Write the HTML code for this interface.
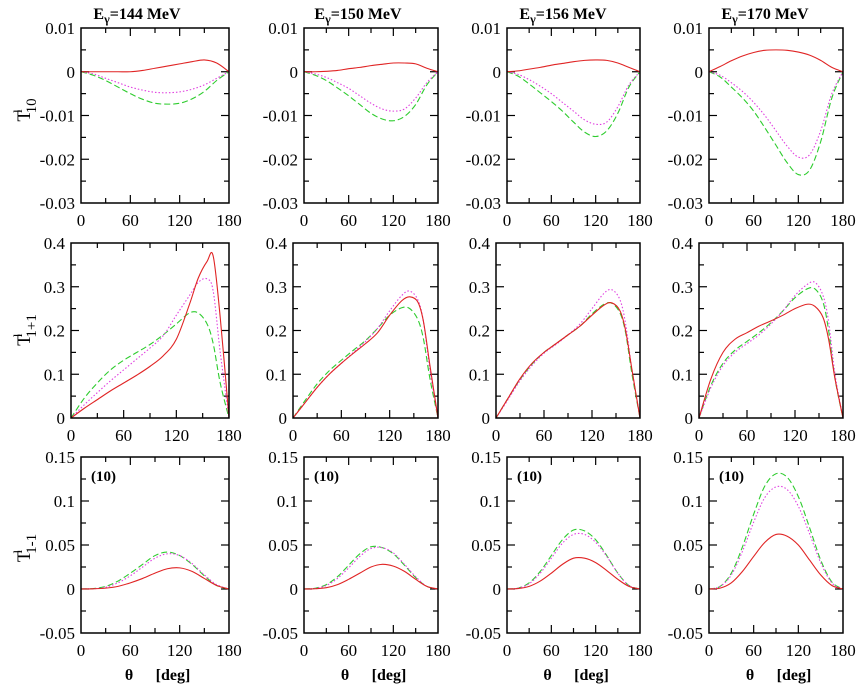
<!DOCTYPE html>
<html><head><meta charset="utf-8"><style>
html,body{margin:0;padding:0;background:#fff;}
svg{display:block;}
svg text{font-family:"Liberation Serif","DejaVu Serif",serif;}
</style></head><body>
<svg id="chart" width="866" height="688" viewBox="0 0 866 688" xmlns="http://www.w3.org/2000/svg" font-family="Liberation Serif, serif"></svg>
<script>
const energies = ["144","150","156","170"];
const xTicks = [0,60,120,180];
const row1Ticks = ["0.01","0","-0.01","-0.02","-0.03"];
const row2Ticks = ["0.4","0.3","0.2","0.1","0"];
const row3Ticks = ["0.15","0.1","0.05","0","-0.05"];
const thA = [0,15,30,45,60,75,90,105,120,135,150,165,180];
const thB = [0,15,30,45,60,75,90,105,120,135,145,155,162,170,180];
// Row 1: T10
const t10Red = [
 [0,0,0,0,0,0.0003,0.0008,0.0013,0.0018,0.0023,0.0027,0.002,0],
 [0,0,0.0001,0.0003,0.0007,0.001,0.0014,0.0017,0.002,0.002,0.0018,0.0008,0],
 [0,0.0002,0.0006,0.001,0.0015,0.0019,0.0023,0.0026,0.0027,0.0026,0.002,0.001,0],
 [0,0.0012,0.0025,0.0036,0.0044,0.0049,0.005,0.0049,0.0045,0.0038,0.0026,0.001,0]];
const t10Mag = [
 [0,-0.0005,-0.0015,-0.0025,-0.0035,-0.0042,-0.0047,-0.0048,-0.0046,-0.004,-0.003,-0.0015,0],
 [0,-0.0005,-0.0013,-0.0025,-0.0038,-0.0055,-0.0072,-0.0085,-0.009,-0.0085,-0.006,-0.0025,0],
 [0,-0.0006,-0.0018,-0.0033,-0.005,-0.007,-0.009,-0.011,-0.012,-0.0115,-0.008,-0.003,0],
 [0,-0.0008,-0.0025,-0.0045,-0.007,-0.01,-0.0135,-0.017,-0.0195,-0.019,-0.0135,-0.005,0]];
const t10Grn = [
 [0,-0.0008,-0.002,-0.0035,-0.005,-0.0063,-0.0072,-0.0074,-0.0072,-0.0062,-0.0045,-0.002,0],
 [0,-0.0008,-0.002,-0.0037,-0.0055,-0.0075,-0.0095,-0.0108,-0.0112,-0.0102,-0.0075,-0.003,0],
 [0,-0.001,-0.0028,-0.0048,-0.0068,-0.009,-0.0115,-0.0138,-0.0148,-0.0135,-0.0095,-0.0035,0],
 [0,-0.0012,-0.0035,-0.006,-0.009,-0.0128,-0.0168,-0.0208,-0.0235,-0.0225,-0.016,-0.006,0]];
// Row 2: T1+1
const tp1Red = [
 [0,0.022,0.042,0.062,0.08,0.098,0.118,0.142,0.18,0.26,0.32,0.358,0.37,0.23,0],
 [0,0.035,0.07,0.1,0.125,0.148,0.17,0.195,0.235,0.268,0.277,0.265,0.22,0.12,0],
 [0,0.045,0.09,0.125,0.15,0.17,0.19,0.21,0.235,0.258,0.263,0.245,0.2,0.11,0],
 [0,0.09,0.15,0.18,0.195,0.21,0.222,0.235,0.25,0.26,0.255,0.23,0.18,0.09,0]];
const tp1Mag = [
 [0,0.03,0.058,0.085,0.11,0.135,0.16,0.188,0.235,0.28,0.31,0.318,0.29,0.15,0],
 [0,0.035,0.07,0.1,0.125,0.15,0.175,0.205,0.245,0.28,0.29,0.27,0.22,0.11,0],
 [0,0.042,0.085,0.12,0.148,0.168,0.19,0.215,0.25,0.285,0.293,0.27,0.215,0.11,0],
 [0,0.07,0.12,0.15,0.17,0.19,0.215,0.245,0.28,0.305,0.31,0.28,0.22,0.1,0]];
const tp1Grn = [
 [0,0.045,0.08,0.11,0.132,0.15,0.168,0.19,0.215,0.24,0.24,0.215,0.17,0.08,0],
 [0,0.04,0.078,0.108,0.132,0.155,0.177,0.205,0.235,0.252,0.25,0.225,0.18,0.09,0],
 [0,0.045,0.088,0.123,0.15,0.17,0.19,0.21,0.238,0.26,0.262,0.24,0.195,0.1,0],
 [0,0.075,0.125,0.155,0.175,0.195,0.218,0.245,0.275,0.295,0.295,0.265,0.2,0.09,0]];
// Row 3: T1-1
const tm1Red = [
 [0,0.0002,0.001,0.003,0.007,0.012,0.018,0.023,0.024,0.02,0.012,0.004,0],
 [0,0.0003,0.0015,0.005,0.011,0.018,0.025,0.028,0.026,0.02,0.011,0.003,0],
 [0,0.0005,0.003,0.009,0.018,0.028,0.035,0.035,0.03,0.021,0.011,0.003,0],
 [0,0.001,0.007,0.02,0.037,0.053,0.062,0.06,0.05,0.033,0.016,0.004,0]];
const tm1Mag = [
 [0,0.0004,0.002,0.007,0.015,0.025,0.035,0.04,0.038,0.029,0.016,0.005,0],
 [0,0.0006,0.004,0.012,0.024,0.037,0.046,0.047,0.041,0.028,0.014,0.003,0],
 [0,0.001,0.006,0.018,0.035,0.052,0.062,0.062,0.053,0.037,0.018,0.004,0],
 [0,0.003,0.016,0.043,0.076,0.104,0.116,0.113,0.094,0.063,0.03,0.007,0]];
const tm1Grn = [
 [0,0.0005,0.003,0.009,0.018,0.028,0.038,0.042,0.038,0.028,0.015,0.004,0],
 [0,0.0008,0.005,0.014,0.027,0.04,0.048,0.047,0.04,0.027,0.013,0.003,0],
 [0,0.001,0.007,0.02,0.038,0.056,0.067,0.066,0.056,0.038,0.018,0.004,0],
 [0,0.003,0.018,0.048,0.085,0.117,0.131,0.127,0.105,0.07,0.033,0.008,0]];

const NS="http://www.w3.org/2000/svg";
const FF='"Liberation Serif", "DejaVu Serif", serif';
const svg=document.getElementById('chart');
function mk(tag,attrs,parent){const e=document.createElementNS(NS,tag);for(const k in attrs)e.setAttribute(k,attrs[k]);if(tag==='text')e.style.fontFamily=FF;(parent||svg).appendChild(e);return e;}

const rights=[229,438,640,843];
const leftsOuter=[81,304,507,709];
const leftsMid=[71,293,496,699];
const rows=[
 {top:28,bot:203,lefts:leftsOuter,ymin:-0.03,ymax:0.01,major:0.01,minor:0.005,labels:row1Ticks,th:thA,red:t10Red,mag:t10Mag,grn:t10Grn,name:'t10'},
 {top:243,bot:418,lefts:leftsMid,ymin:0,ymax:0.4,major:0.1,minor:0.05,labels:row2Ticks,th:thB,red:tp1Red,mag:tp1Mag,grn:tp1Grn,name:'t1plus1'},
 {top:457,bot:633,lefts:leftsOuter,ymin:-0.05,ymax:0.15,major:0.05,minor:0.025,labels:row3Ticks,th:thA,red:tm1Red,mag:tm1Mag,grn:tm1Grn,name:'t1minus1'}];

function smoothPath(pts){
  let d='M'+pts[0][0].toFixed(2)+','+pts[0][1].toFixed(2);
  for(let i=0;i<pts.length-1;i++){
    const p0=pts[Math.max(i-1,0)],p1=pts[i],p2=pts[i+1],p3=pts[Math.min(i+2,pts.length-1)];
    const c1x=p1[0]+(p2[0]-p0[0])/6,c1y=p1[1]+(p2[1]-p0[1])/6;
    const c2x=p2[0]-(p3[0]-p1[0])/6,c2y=p2[1]-(p3[1]-p1[1])/6;
    d+=' C'+c1x.toFixed(2)+','+c1y.toFixed(2)+' '+c2x.toFixed(2)+','+c2y.toFixed(2)+' '+p2[0].toFixed(2)+','+p2[1].toFixed(2);
  }
  return d;
}

rows.forEach((r,ri)=>{
  for(let c=0;c<4;c++){
    const L=r.lefts[c],R=rights[c],T=r.top,B=r.bot;
    const xs=v=>L+(v/180)*(R-L);
    const ys=v=>B-(v-r.ymin)/(r.ymax-r.ymin)*(B-T);
    const g=mk('g',{});
    
    
    for(let t=0;t<=180;t+=30){
      const len=(t%60===0)?8:5;const x=xs(t);
      if(t>0&&t<180){
        mk('line',{x1:x,y1:B,x2:x,y2:B-len,stroke:'#000','stroke-width':1.2},g);
        mk('line',{x1:x,y1:T,x2:x,y2:T+len,stroke:'#000','stroke-width':1.2},g);
      }
    }
    xTicks.forEach(t=>{
      const tx=mk('text',{x:xs(t),y:B+23,'font-size':17,'text-anchor':'middle',fill:'#000'},g);
      tx.textContent=t;
      
      
    });
    const nMinor=Math.round((r.ymax-r.ymin)/r.minor);
    for(let k=0;k<=nMinor;k++){
      const v=r.ymin+k*r.minor;const y=ys(v);
      const len=(k%2===0)?8:5;
      if(k>0&&k<nMinor){
        mk('line',{x1:L,y1:y,x2:L+len,y2:y,stroke:'#000','stroke-width':1.2},g);
        mk('line',{x1:R,y1:y,x2:R-len,y2:y,stroke:'#000','stroke-width':1.2},g);
      }
    }
    r.labels.forEach((lab,k)=>{
      const v=r.ymax-k*r.major;
      const tx=mk('text',{x:L-6,y:ys(v)+6,'font-size':17,'text-anchor':'end',fill:'#000'},g);
      tx.textContent=lab;
      
      
    });
    const ser=[[r.grn[c],'#2ecc2e','6,3','green-dashed'],[r.mag[c],'#e040e0','1.5,2','magenta-dotted'],[r.red[c],'#e02424','','red-solid']];
    ser.forEach(s=>{
      const pts=r.th.map((t,i)=>[xs(t),ys(s[0][i])]);
      const p=mk('path',{d:smoothPath(pts),fill:'none',stroke:s[1],'stroke-width':1.1},g);
      if(s[2])p.setAttribute('stroke-dasharray',s[2]);
      
      
    });
    const frame=mk('rect',{x:L,y:T,width:R-L,height:B-T,fill:'none',stroke:'#000','stroke-width':1.5},g);
    
    
    if(ri===2){
      const tx=mk('text',{x:L+10,y:T+24,'font-size':15,'font-weight':'bold',fill:'#000'},g);
      tx.textContent='(10)';
      
      
    }
  }
});
const titleX=[137,358,563,765];
energies.forEach((e,i)=>{
  const t=mk('text',{x:titleX[i],y:19,'font-size':16,'font-weight':'bold','text-anchor':'middle',fill:'#000'});
  t.innerHTML='E<tspan font-size="12" dy="4">γ</tspan><tspan dy="-4">='+e+' MeV</tspan>';
  
  
});
rights.forEach((R,i)=>{
  const L=leftsOuter[i];const cx=(L+R)/2;
  const t=mk('text',{x:cx-26,y:680,'font-size':16,'font-weight':'bold',fill:'#000','text-anchor':'middle'});
  t.textContent='θ';
  
  
  const t2=mk('text',{x:cx+18,y:680,'font-size':16,'font-weight':'bold',fill:'#000','text-anchor':'middle'});
  t2.textContent='[deg]';
  
  
});
const yt=[[110,'10'],[330,'1+1'],[548,'1-1']];
yt.forEach(a=>{
  const t=mk('text',{transform:'translate(30,'+a[0]+') rotate(-90)','font-size':19,'text-anchor':'middle',fill:'#000'});
  t.innerHTML='T<tspan font-size="13" dy="-8" dx="-3">l</tspan><tspan font-size="15" dy="14" dx="-4">'+a[1]+'</tspan>';
  
  
});
</script>
</body></html>
